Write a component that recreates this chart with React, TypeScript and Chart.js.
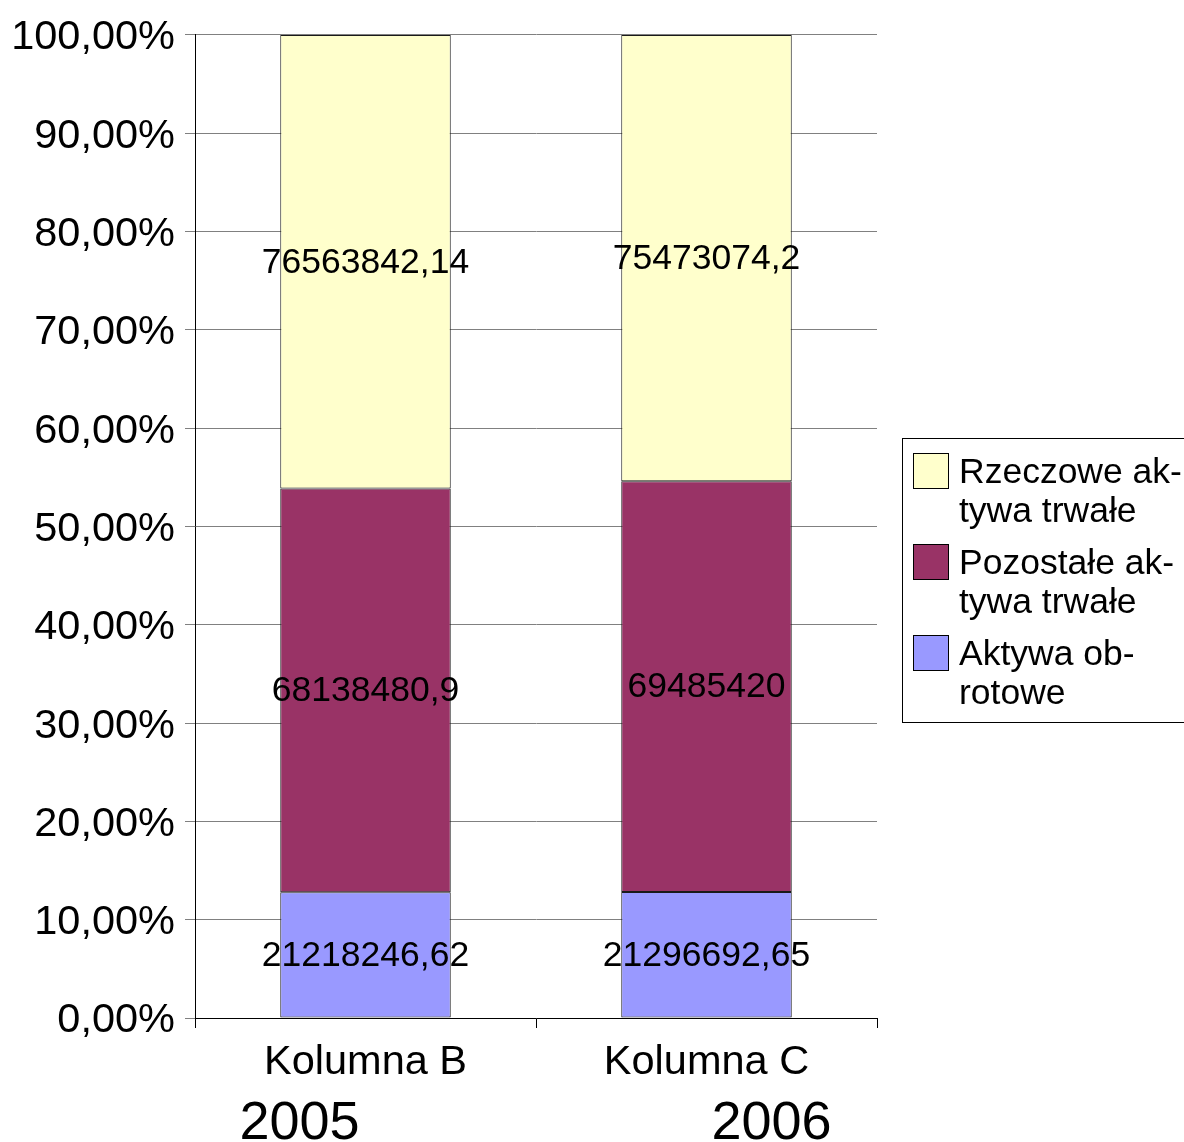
import React, { useEffect, useRef } from "react";
import { Chart, registerables } from "chart.js";

Chart.register(...registerables);

const categories = ["Kolumna B", "Kolumna C"];
const years = ["2005", "2006"];
const seriesNames = ["Aktywa obrotowe", "Pozostałe aktywa trwałe", "Rzeczowe aktywa trwałe"];
const aktywaObrotowe = [21218246.62, 21296692.65];
const pozostaleAktywa = [68138480.9, 69485420];
const rzeczoweAktywa = [76563842.14, 75473074.2];
const yTicks = [0, 10, 20, 30, 40, 50, 60, 70, 80, 90, 100];
const legendLines = [
  ["Rzeczowe ak-", "tywa trwałe"],
  ["Pozostałe ak-", "tywa trwałe"],
  ["Aktywa ob-", "rotowe"],
];

const colors = ["#9999FF", "#993366", "#FFFFCC"];
const FONT = "'Liberation Sans', Arial, sans-serif";

export default function App() {
  const ref = useRef<HTMLCanvasElement | null>(null);

  useEffect(() => {
    if (!ref.current) return;
    const raw = [aktywaObrotowe, pozostaleAktywa, rzeczoweAktywa];
    const totals = categories.map((_, i) => raw.reduce((s, arr) => s + arr[i], 0));
    const pct = raw.map((arr) => arr.map((v, i) => (v / totals[i]) * 100));

    const labelsPlugin = {
      id: "segLabels",
      afterDatasetsDraw(chart: any) {
        const ctx = chart.ctx;
        ctx.save();
        ctx.font = `35.5px ${FONT}`;
        ctx.fillStyle = "#000";
        ctx.textAlign = "center";
        ctx.textBaseline = "middle";
        chart.data.datasets.forEach((ds: any, di: number) => {
          const meta = chart.getDatasetMeta(di);
          meta.data.forEach((el: any, i: number) => {
            const p = el.getProps(["x", "y", "base"], true);
            const txt = String(raw[di][i]).replace(".", ",");
            ctx.fillText(txt, p.x, (p.y + p.base) / 2 + 1);
          });
        });
        ctx.restore();
      },
      afterDraw(chart: any) {
        const ctx = chart.ctx;
        const xs = chart.scales.x;
        ctx.save();
        // year labels
        ctx.font = `54px ${FONT}`;
        ctx.fillStyle = "#000";
        ctx.textAlign = "center";
        ctx.textBaseline = "alphabetic";
        const yearOffsets = [-66, 65];
        years.forEach((y, i) => {
          ctx.fillText(y, xs.getPixelForValue(i) + yearOffsets[i], 1139);
        });
        // legend
        const lx = 902, ly = 438, lw = 300, lh = 284;
        ctx.strokeStyle = "#000";
        ctx.lineWidth = 1;
        ctx.strokeRect(lx + 0.5, ly + 0.5, lw, lh);
        ctx.font = `35.5px ${FONT}`;
        ctx.textAlign = "left";
        const order = [2, 1, 0];
        order.forEach((di, k) => {
          const sy = 453 + k * 91;
          ctx.fillStyle = colors[di];
          ctx.fillRect(913, sy, 36, 36);
          ctx.strokeStyle = "#000";
          ctx.strokeRect(913.5, sy + 0.5, 35, 35);
          ctx.fillStyle = "#000";
          legendLines[k].forEach((line, li) => {
            ctx.fillText(line, 959, sy + 30 + li * 39);
          });
        });
        ctx.restore();
      },
    };

    const chart = new Chart(ref.current, {
      type: "bar",
      data: {
        labels: categories,
        datasets: seriesNames.map((name, di) => ({
          label: name,
          data: pct[di],
          backgroundColor: colors[di],
          borderColor: "#1a1a1a",
          borderWidth: 1,
          borderSkipped: false,
          barPercentage: 0.5,
          categoryPercentage: 1,
        })),
      },
      options: {
        responsive: false,
        animation: false,
        layout: { padding: { left: 0, right: 307, top: 34, bottom: 0 } },
        plugins: { legend: { display: false }, tooltip: { enabled: false } },
        scales: {
          x: {
            stacked: true,
            afterFit(scale: any) {
              scale.height = 124;
            },
            grid: {
              drawOnChartArea: false,
              drawTicks: true,
              tickLength: 10,
              color: "#000",
              offset: true,
            },
            border: { color: "#000", width: 1 },
            ticks: {
              color: "#000",
              font: { family: FONT, size: 41.5 },
              padding: 10,
              maxRotation: 0,
            },
          },
          y: {
            stacked: true,
            min: 0,
            max: 100,
            afterFit(scale: any) {
              scale.width = 195;
            },
            afterBuildTicks(scale: any) {
              scale.ticks = yTicks.map((v) => ({ value: v }));
            },
            grid: {
              color: "#808080",
              tickLength: 10,
              tickColor: "#808080",
            },
            border: { color: "#000", width: 1 },
            ticks: {
              color: "#000",
              font: { family: FONT, size: 41.5 },
              padding: 10,
              labelOffset: 3,
              callback: (v: any) => Number(v).toFixed(2).replace(".", ",") + "%",
            },
          },
        },
      },
      plugins: [labelsPlugin],
    });
    return () => chart.destroy();
  }, []);

  return (
    <div style={{ position: "absolute", left: 0, top: 0, width: 1184, height: 1142, background: "#fff" }}>
      <canvas ref={ref} width={1184} height={1142} />
    </div>
  );
}
